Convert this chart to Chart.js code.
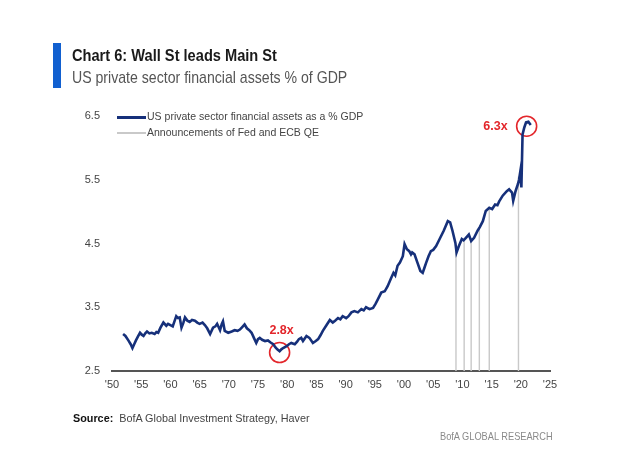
<!DOCTYPE html>
<html lang="en">
<head>
  <meta charset="UTF-8" />
  <title>Wall St leads Main St</title>
  <script src="https://cdn.jsdelivr.net/npm/chart.js"></script>
  <style>
    body { margin: 0; width: 630px; height: 463px; background: #fff; position: relative; overflow: hidden;
           font-family: "Liberation Sans", Arial, sans-serif; }
    #chart { position: absolute; left: 0; top: 0; }
    .abs { position: absolute; white-space: nowrap; transform-origin: 0 50%; }
    #bar { left: 53px; top: 43px; width: 8px; height: 45px; background: #1160d0; }
    #title { left: 72px; top: 46px; font-size: 17px; font-weight: bold; color: #1a1a1a; transform: scaleX(0.86); }
    #subtitle { left: 72px; top: 68px; font-size: 17px; color: #555; transform: scaleX(0.83); }
    .lg-line { position: absolute; left: 117px; width: 29px; }
    .lg-text { left: 147px; font-size: 11.5px; color: #444; transform: scaleX(0.915); }
    #source { left: 73px; top: 412px; font-size: 11.5px; color: #444; transform: scaleX(0.94); }
    #source b { color: #111; }
    #brand { left: 440px; top: 430px; font-size: 11px; color: #8a8a8a; transform: scaleX(0.84); }
  </style>
</head>
<body>
  <canvas id="chart" width="630" height="463"></canvas>

  <div id="bar" class="abs"></div>
  <div id="title" class="abs">Chart 6: Wall St leads Main St</div>
  <div id="subtitle" class="abs">US private sector financial assets % of GDP</div>

  <!-- legend -->
  <div class="lg-line" style="top:116px;height:2.5px;background:#16307a"></div>
  <div class="abs lg-text" style="top:110px">US private sector financial assets as a % GDP</div>
  <div class="lg-line" style="top:132px;height:1.5px;background:#c9c9c9"></div>
  <div class="abs lg-text" style="top:126px">Announcements of Fed and ECB QE</div>

  <div id="source" class="abs"><b>Source:</b>&nbsp; BofA Global Investment Strategy, Haver</div>
  <div id="brand" class="abs">BofA GLOBAL RESEARCH</div>

<script>
  // series: US private sector financial assets, multiple of GDP
  const years = [
    1951.9, 1952.3, 1952.8, 1953.2, 1953.5, 1953.8, 1954.1, 1954.5, 1954.8, 1955.1,
    1955.4, 1955.7, 1956.0, 1956.4, 1956.8, 1957.3, 1957.6, 1957.9, 1958.3, 1958.8,
    1959.3, 1959.6, 1960.0, 1960.4, 1961.0, 1961.3, 1961.6, 1961.9, 1962.2, 1962.5,
    1962.9, 1963.3, 1963.7, 1964.2, 1964.6, 1965.0, 1965.5, 1965.9, 1966.3, 1966.8,
    1967.3, 1967.7, 1968.0, 1968.5, 1968.8, 1969.0, 1969.3, 1969.9, 1970.5, 1971.0,
    1971.5, 1971.9, 1972.3, 1972.7, 1973.1, 1973.5, 1973.9, 1974.3, 1974.7, 1975.0,
    1975.3, 1975.7, 1976.2, 1976.7, 1977.1, 1977.6, 1978.0, 1978.3, 1978.7, 1979.0,
    1979.3, 1979.9, 1980.3, 1980.7, 1981.3, 1981.7, 1982.0, 1982.4, 1982.7, 1983.3,
    1983.8, 1984.4, 1984.9, 1985.3, 1985.7, 1986.1, 1986.8, 1987.3, 1987.8, 1988.2,
    1988.7, 1989.1, 1989.5, 1990.1, 1990.5, 1991.0, 1991.5, 1992.1, 1992.7, 1993.1,
    1993.5, 1994.1, 1994.7, 1995.1, 1995.5, 1996.1, 1996.7, 1997.2, 1997.8, 1998.2,
    1998.5, 1998.9, 1999.3, 1999.8, 2000.1, 2000.5, 2000.9, 2001.2, 2001.4, 2001.8,
    2002.3, 2002.8, 2003.2, 2003.5, 2003.8, 2004.2, 2004.6, 2005.0, 2005.5, 2006.1,
    2006.8, 2007.5, 2007.9, 2008.3, 2008.8, 2009.0, 2009.4, 2009.9, 2010.2, 2010.6,
    2011.1, 2011.5, 2012.0, 2012.6, 2013.0, 2013.5, 2014.0, 2014.6, 2015.1, 2015.6,
    2016.0, 2016.3, 2016.9, 2017.6, 2018.0, 2018.5, 2018.7, 2019.1, 2019.5, 2019.7,
    2019.9, 2020.1, 2020.3, 2020.6, 2020.9, 2021.3, 2021.7
  ];
  const assets = [
    3.08, 3.05, 2.98, 2.92, 2.86, 2.92, 2.98, 3.05, 3.10, 3.07,
    3.05, 3.09, 3.12, 3.09, 3.10, 3.08, 3.11, 3.10, 3.18, 3.26,
    3.21, 3.24, 3.22, 3.20, 3.36, 3.33, 3.34, 3.18, 3.25, 3.34,
    3.29, 3.27, 3.30, 3.29, 3.26, 3.24, 3.26, 3.22, 3.17, 3.08,
    3.18, 3.20, 3.24, 3.14, 3.24, 3.28, 3.13, 3.10, 3.12, 3.14,
    3.13, 3.15, 3.19, 3.23, 3.17, 3.14, 3.10, 3.02, 2.94, 3.00,
    3.02, 2.99, 2.97, 2.98, 2.95, 2.92, 2.87, 2.84, 2.81, 2.84,
    2.86, 2.89, 2.92, 2.94, 2.92, 2.96, 3.00, 3.02, 2.97, 3.05,
    3.02, 2.94, 2.97, 3.00, 3.06, 3.13, 3.23, 3.30, 3.26, 3.29,
    3.33, 3.31, 3.36, 3.33, 3.36, 3.42, 3.44, 3.42, 3.47, 3.45,
    3.50, 3.47, 3.49, 3.55, 3.62, 3.73, 3.75, 3.83, 3.96, 4.04,
    4.00, 4.15, 4.20, 4.30, 4.49, 4.41, 4.38, 4.33, 4.36, 4.33,
    4.20, 4.07, 4.04, 4.12, 4.20, 4.30, 4.38, 4.40, 4.46, 4.57,
    4.70, 4.85, 4.83, 4.70, 4.51, 4.36, 4.46, 4.57, 4.55, 4.59,
    4.64, 4.54, 4.59, 4.70, 4.76, 4.85, 5.01, 5.06, 5.04, 5.11,
    5.10, 5.16, 5.25, 5.32, 5.35, 5.30, 5.17, 5.32, 5.43, 5.50,
    5.62, 5.38, 6.21, 6.32, 6.40, 6.41, 6.36
  ];

  // QE announcement dates and the level where each marker line meets the series
  const qeYears = [2008.9, 2010.3, 2011.5, 2012.9, 2014.6, 2019.6];
  const qeTops = [4.40, 4.55, 4.55, 4.76, 5.06, 5.55];

  // circled call-outs
  const markX = [1978.7, 2021.0];
  const markY = [2.79, 6.34];
  const markText = ['2.8x', '6.3x'];

  const yTickValues = [2.5, 3.5, 4.5, 5.5, 6.5];
  const xTickValues = [1950, 1955, 1960, 1965, 1970, 1975, 1980, 1985, 1990, 1995, 2000, 2005, 2010, 2015, 2020, 2025];
  const xTickLabels = ["'50", "'55", "'60", "'65", "'70", "'75", "'80", "'85", "'90", "'95", "'00", "'05", "'10", "'15", "'20", "'25"];

  const FONT = '"Liberation Sans", Arial, sans-serif';
  const RED = '#e3262b';

  const qeData = [];
  qeYears.forEach((q, i) => {
    qeData.push({ x: q, y: yTickValues[0] }, { x: q, y: qeTops[i] }, { x: q, y: null });
  });

  // draws the "2.8x" / "6.3x" text next to the circles
  const markLabels = {
    id: 'markLabels',
    afterDatasetsDraw(chart) {
      const { ctx, scales: { x, y } } = chart;
      ctx.save();
      ctx.fillStyle = RED;
      ctx.font = 'bold 12.5px ' + FONT;
      ctx.textBaseline = 'middle';
      markText.forEach((t, i) => {
        const px = x.getPixelForValue(markX[i]);
        const py = y.getPixelForValue(markY[i]);
        if (i === 0) {
          ctx.textAlign = 'center';
          ctx.fillText(t, px + 2, py - 22);
        } else {
          ctx.textAlign = 'right';
          ctx.fillText(t, px - 19, py);
        }
      });
      ctx.restore();
    }
  };

  new Chart(document.getElementById('chart'), {
    type: 'line',
    data: {
      datasets: [
        {
          label: 'US private sector financial assets as a % GDP',
          data: years.map((yr, i) => ({ x: yr, y: assets[i] })),
          borderColor: '#16307a',
          borderWidth: 2.6,
          pointRadius: 0,
          tension: 0,
          clip: false
        },
        {
          label: 'Announcements of Fed and ECB QE',
          data: qeData,
          borderColor: '#c9c9c9',
          borderWidth: 1.4,
          pointRadius: 0,
          spanGaps: false,
          clip: false
        },
        {
          type: 'scatter',
          label: 'marks',
          data: markX.map((mx, i) => ({ x: mx, y: markY[i] })),
          pointRadius: 10,
          pointBorderColor: RED,
          pointBackgroundColor: 'rgba(0,0,0,0)',
          pointBorderWidth: 1.6,
          showLine: false,
          clip: false
        }
      ]
    },
    options: {
      responsive: false,
      animation: false,
      devicePixelRatio: 1,
      layout: { padding: { left: 80, right: 80, top: 116, bottom: 62 } },
      plugins: { legend: { display: false }, tooltip: { enabled: false } },
      scales: {
        x: {
          type: 'linear',
          min: 1950,
          max: 2025,
          afterBuildTicks: s => { s.ticks = xTickValues.map(v => ({ value: v })); },
          afterFit: s => { s.height = 30; },
          ticks: {
            padding: 7,
            maxRotation: 0,
            autoSkip: false,
            color: '#444',
            font: { family: FONT, size: 11 },
            callback: v => xTickLabels[xTickValues.indexOf(v)]
          },
          grid: { display: false, drawTicks: false },
          border: { display: true, color: '#555', width: 2 }
        },
        y: {
          min: 2.5,
          max: 6.5,
          afterBuildTicks: s => { s.ticks = yTickValues.map(v => ({ value: v })); },
          afterFit: s => { s.width = 32; },
          ticks: {
            padding: 12,
            color: '#444',
            font: { family: FONT, size: 11 },
            callback: v => v.toFixed(1)
          },
          grid: { display: false, drawTicks: false },
          border: { display: false }
        }
      }
    },
    plugins: [markLabels]
  });
</script>
</body>
</html>
